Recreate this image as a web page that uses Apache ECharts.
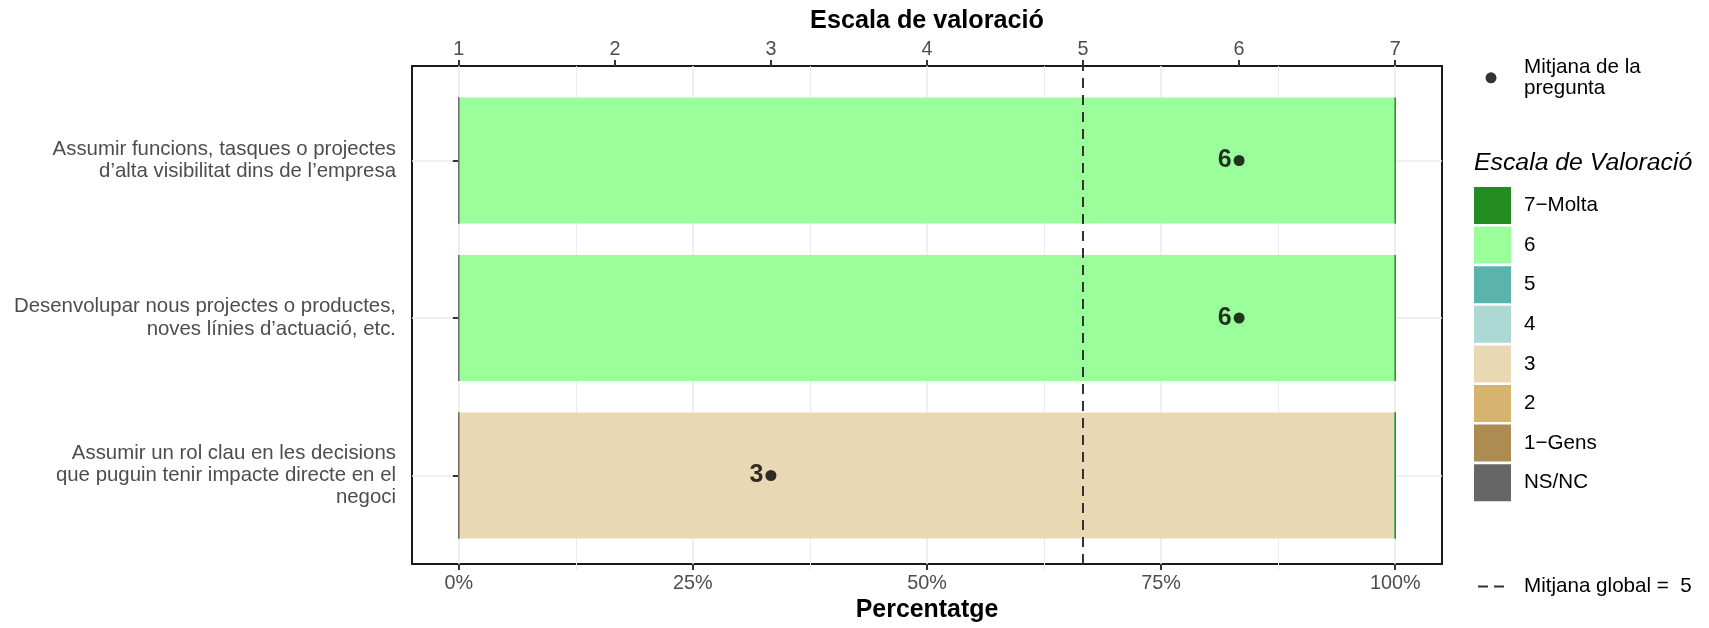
<!DOCTYPE html>
<html>
<head>
<meta charset="utf-8">
<script src="https://cdn.jsdelivr.net/npm/echarts@6/dist/echarts.min.js"></script>
<style>
html,body{margin:0;padding:0;background:#fff;}
#chart{width:1709px;height:628px;}
</style>
</head>
<body>
<div id="chart"></div>
<script>
// ---- data ----
const categories = [
  'Assumir funcions, tasques o projectes\nd\u2019alta visibilitat dins de l\u2019empresa',
  'Desenvolupar nous projectes o productes,\nnoves l\u00EDnies d\u2019actuaci\u00F3, etc.',
  'Assumir un rol clau en les decisions\nque puguin tenir impacte directe en el\nnegoci'
];
const levels = ['NS/NC', '1\u2212Gens', '2', '3', '4', '5', '6', '7\u2212Molta'];
const levelColors = ['#666666', '#AC8C52', '#D6B36F', '#E9D8B3', '#ADD9D5', '#5AB4AC', '#9AFF9A', '#228B22'];
const pctNSNC  = [0, 0, 0];
const pct1Gens = [0, 0, 0];
const pct2     = [0, 0, 0];
const pct3     = [0, 0, 100];
const pct4     = [0, 0, 0];
const pct5     = [0, 0, 0];
const pct6     = [100, 100, 0];
const pct7     = [0, 0, 0];
const means = [6, 6, 3];
const globalMean = 5;
const bottomTicks = [0, 25, 50, 75, 100];
const topTicks = [1, 2, 3, 4, 5, 6, 7];

const pctByLevel = [pctNSNC, pct1Gens, pct2, pct3, pct4, pct5, pct6, pct7];
const FONT = '"Liberation Sans", Arial, Helvetica, sans-serif';

const chart = echarts.init(document.getElementById('chart'), null, {renderer: 'canvas'});

const barSeries = levels.map((lv, i) => ({
  name: lv,
  type: 'bar',
  stack: 'pct',
  xAxisIndex: 4,
  yAxisIndex: 3,
  barCategoryGap: '20%',
  z: i === 0 ? 3 : 2,
  itemStyle: {color: levelColors[i], borderColor: levelColors[i], borderWidth: 1},
  emphasis: {disabled: true},
  data: pctByLevel[i]
}));

const option = {
  animation: false,
  backgroundColor: '#ffffff',
  textStyle: {fontFamily: FONT},
  title: [{
    text: 'Escala de Valoraci\u00F3',
    left: 1474, top: 151, padding: 0,
    textStyle: {fontFamily: FONT, fontSize: 24.8, fontStyle: 'italic', fontWeight: 'normal', color: '#000'}
  }],
  grid: [
    {left: 412, top: 66, width: 1030, height: 504, show: true, borderColor: '#1a1a1a', borderWidth: 2, backgroundColor: 'transparent', containLabel: false},
    {left: 458.8, top: 66, width: 936.4, height: 504, containLabel: false},
    {left: 412, top: 160.5, width: 1030, height: 315, containLabel: false},
    {left: 412, top: 81.75, width: 1030, height: 472.5, containLabel: false}
  ],
  xAxis: [
    { // 0 panel bottom (percent)
      type: 'value', gridIndex: 0, position: 'bottom', min: -5, max: 105,
      axisLine: {show: false},
      axisTick: {show: true, customValues: bottomTicks, length: 6, lineStyle: {color: '#333', width: 2}},
      axisLabel: {show: true, customValues: bottomTicks, formatter: v => v + '%', margin: 9,
                  fontFamily: FONT, fontSize: 19.8, color: '#4D4D4D'},
      splitLine: {show: false},
      name: 'Percentatge', nameLocation: 'middle', nameGap: 33,
      nameTextStyle: {fontFamily: FONT, fontSize: 24.9, fontWeight: 'bold', color: '#000', verticalAlign: 'top'}
    },
    { // 1 panel top (scale 1..7)
      type: 'value', gridIndex: 0, position: 'top', min: 0.7, max: 7.3,
      axisLine: {show: false},
      axisTick: {show: true, customValues: topTicks, length: 6, lineStyle: {color: '#333', width: 2}},
      axisLabel: {show: true, customValues: topTicks, margin: 6,
                  fontFamily: FONT, fontSize: 19.8, color: '#4D4D4D'},
      splitLine: {show: false},
      name: 'Escala de valoraci\u00F3', nameLocation: 'middle', nameGap: 32,
      nameTextStyle: {fontFamily: FONT, fontSize: 25.2, fontWeight: 'bold', color: '#000', verticalAlign: 'bottom'}
    },
    { // 2 vertical gridlines
      type: 'value', gridIndex: 1, min: 0, max: 100, interval: 25,
      axisLine: {show: false}, axisTick: {show: false}, axisLabel: {show: false},
      splitLine: {show: true, lineStyle: {color: '#EBEBEB', width: 1.6}},
      minorTick: {show: false, splitNumber: 2},
      minorSplitLine: {show: true, lineStyle: {color: '#EBEBEB', width: 1}}
    },
    { // 3 hgrid x (hidden)
      type: 'value', gridIndex: 2, min: 0, max: 1, show: false
    },
    { // 4 data bottom (hidden)
      type: 'value', gridIndex: 3, min: -5, max: 105, show: false
    },
    { // 5 data top (hidden)
      type: 'value', gridIndex: 3, min: 0.7, max: 7.3, show: false, position: 'top'
    }
  ],
  yAxis: [
    {type: 'value', gridIndex: 0, min: 0, max: 1, show: false},
    {type: 'value', gridIndex: 1, min: 0, max: 1, show: false},
    { // horizontal gridlines at category centres
      type: 'value', gridIndex: 2, min: 0, max: 2, interval: 1,
      axisLine: {show: false}, axisTick: {show: false}, axisLabel: {show: false},
      splitLine: {show: true, lineStyle: {color: '#EBEBEB', width: 1.6}}
    },
    {
      type: 'category', gridIndex: 3, data: categories, inverse: true,
      axisLine: {show: false},
      axisTick: {show: true, alignWithLabel: true, length: 6, lineStyle: {color: '#333', width: 2}},
      axisLabel: {show: true, margin: 16, align: 'right', lineHeight: 22.3,
                  fontFamily: FONT, fontSize: 20.4, color: '#4D4D4D'},
      splitLine: {show: false}
    }
  ],
  legend: [
    {
      data: ['Mitjana de la pregunta'],
      left: 1485.5, top: 56.5, padding: 0,
      icon: 'circle', itemWidth: 11, itemHeight: 11,
      selectedMode: false,
      itemStyle: {borderWidth: 0},
      formatter: n => 'Mitjana de la\npregunta',
      textStyle: {fontFamily: FONT, fontSize: 20.6, lineHeight: 21.3, color: '#000', padding: [0, 0, 0, 22.5]}
    },
    {
      data: levels.slice().reverse(),
      orient: 'vertical',
      left: 1474, top: 187, padding: 0,
      icon: 'rect', itemWidth: 37, itemHeight: 37, itemGap: 2.6,
      selectedMode: false,
      itemStyle: {borderWidth: 0},
      textStyle: {fontFamily: FONT, fontSize: 20.6, color: '#000', padding: [0, 0, 0, 8]}
    },
    {
      data: ['Mitjana global'],
      left: 1478, top: 576, padding: 0,
      icon: 'path://M0,0H10V2H0Z M16,0H26V2H16Z', itemWidth: 26, itemHeight: 2,
      selectedMode: false,
      itemStyle: {borderWidth: 0},
      formatter: n => 'Mitjana global =  ' + globalMean,
      textStyle: {fontFamily: FONT, fontSize: 20.6, color: '#000', padding: [0, 0, 0, 15]}
    }
  ],
  series: barSeries.concat([
    {
      name: 'Mitjana de la pregunta',
      type: 'scatter',
      xAxisIndex: 5, yAxisIndex: 3,
      symbol: 'circle', symbolSize: 11,
      itemStyle: {color: '#000'},
      z: 6,
      emphasis: {disabled: true},
      label: {
        show: true, position: 'left', distance: 2,
        formatter: p => String(p.value[0]),
        fontFamily: FONT, fontSize: 25, fontWeight: 'bold', color: '#000'
      },
      data: means.map((m, i) => [m, i])
    },
    {
      name: 'Mitjana global',
      type: 'line',
      xAxisIndex: 1, yAxisIndex: 0,
      showSymbol: false,
      itemStyle: {color: '#333'},
      lineStyle: {color: '#333', type: 'dashed'},
      z: 5,
      data: [],
      markLine: {
        silent: true, symbol: ['none', 'none'],
        label: {show: false},
        lineStyle: {color: '#333', width: 2, type: [10, 7]},
        emphasis: {disabled: true},
        data: [{xAxis: globalMean}]
      }
    }
  ])
};
chart.setOption(option);
</script>
</body>
</html>
